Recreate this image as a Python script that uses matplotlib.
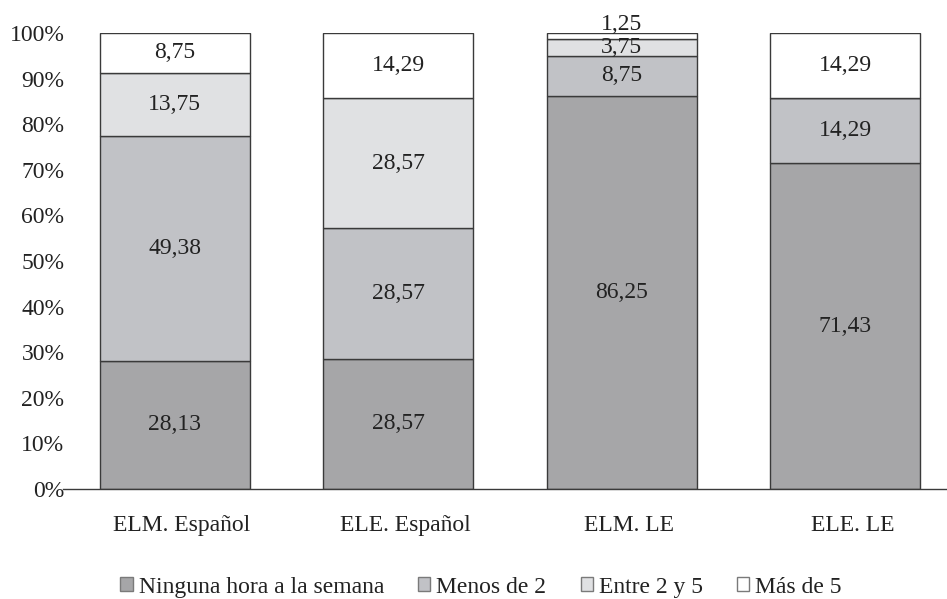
import matplotlib
matplotlib.use("Agg")
import matplotlib.pyplot as plt
import matplotlib.transforms as mtransforms
from matplotlib.patches import Patch
import numpy as np

categories = ["ELM. Español", "ELE. Español", "ELM. LE", "ELE. LE"]
series_names = ["Ninguna hora a la semana", "Menos de 2", "Entre 2 y 5", "Más de 5"]
ninguna = [28.13, 28.57, 86.25, 71.43]
menos_2 = [49.38, 28.57, 8.75, 14.29]
entre_2_5 = [13.75, 28.57, 3.75, 0.0]
mas_5 = [8.75, 14.29, 1.25, 14.29]
y_ticks = [0, 10, 20, 30, 40, 50, 60, 70, 80, 90, 100]

colors = ["#a6a6a8", "#c1c2c6", "#e0e1e3", "#ffffff"]
edge = "#3a3a3a"
text_color = "#222222"
fs = 17

plt.rcParams["font.family"] = ["Liberation Serif", "DejaVu Serif"]

fig = plt.figure(figsize=(9.47, 5.99), dpi=100)
ax = fig.add_axes([63 / 947, 1 - 489 / 599, 894 / 947, (489 - 33) / 599])

x = np.arange(len(categories))
width = 0.67
bottom = np.zeros(len(categories))
for name, vals, col in zip(series_names, [ninguna, menos_2, entre_2_5, mas_5], colors):
    vals = np.array(vals)
    ax.bar(x, vals, width, bottom=bottom, color=col, edgecolor=edge, linewidth=1.0, label=name)
    for xi, b, v in zip(x, bottom, vals):
        if v <= 0:
            continue
        yc = b + v / 2
        if v < 2:
            yc = b + v + 1.8
        ax.text(xi, yc, f"{v:.2f}".replace(".", ","), ha="center", va="center",
                fontsize=fs, color=text_color)
    bottom += vals

ax.set_xlim(-0.5, 3.5)
ax.set_ylim(0, 100)
ax.set_yticks(y_ticks)
ax.set_yticklabels([f"{t}%" for t in y_ticks], fontsize=fs, color=text_color)
ax.set_xticks(x)
ax.set_xticklabels(categories, fontsize=fs, color=text_color)
ax.tick_params(axis="y", length=0, pad=-1)
ax.tick_params(axis="x", length=0, pad=19)
shift = mtransforms.ScaledTranslation(7 / 100, 0, fig.dpi_scale_trans)
for lbl in ax.get_xticklabels():
    lbl.set_transform(lbl.get_transform() + shift)
for s in ["top", "right", "left"]:
    ax.spines[s].set_visible(False)
ax.spines["bottom"].set_color(edge)
ax.spines["bottom"].set_linewidth(1.0)

handles = [Patch(facecolor=c, edgecolor="#7a7a7a", linewidth=1.0) for c in colors]
fig.legend(handles, series_names, loc="center", bbox_to_anchor=(0.508, 0.02), ncol=4,
           frameon=False, fontsize=fs, handlelength=0.52, handleheight=0.52,
           handletextpad=0.25, columnspacing=1.45, labelcolor=text_color,
           borderpad=0, borderaxespad=0)

fig.savefig("out.png", dpi=100)
